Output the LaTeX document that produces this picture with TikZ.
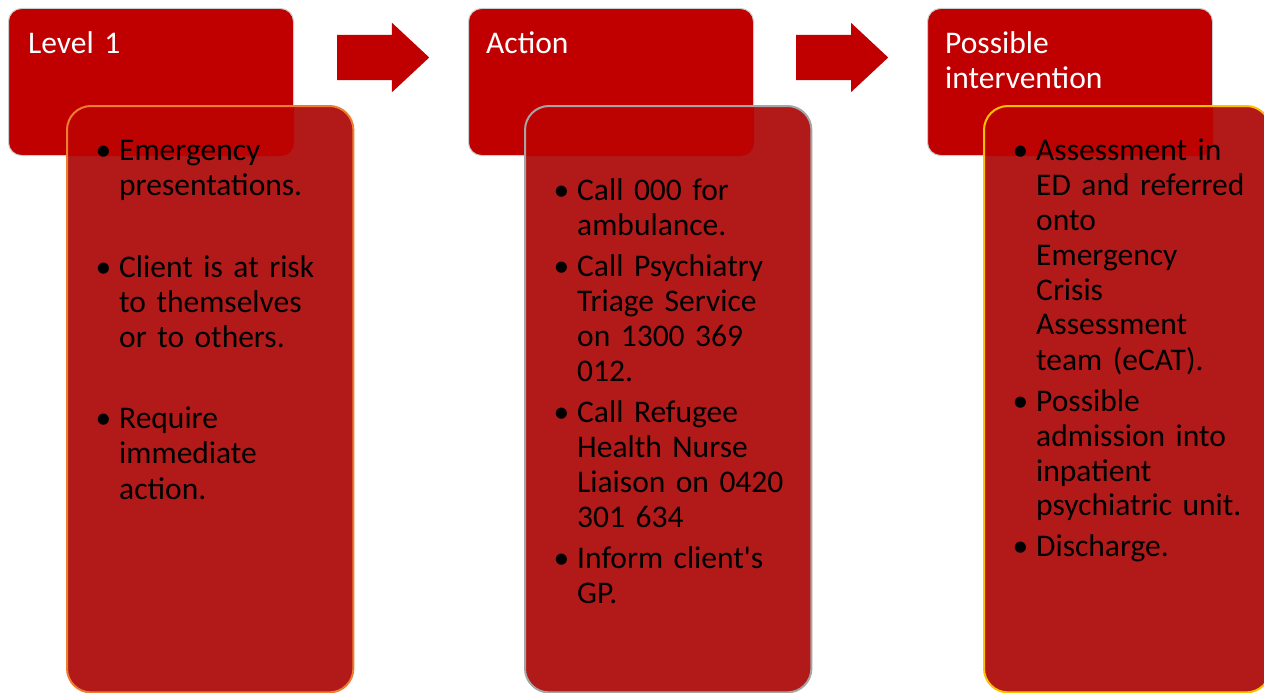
\documentclass[tikz,border=0pt]{standalone}
\usepackage{fontspec}
\setmainfont{Carlito}
\usepackage{enumitem}
\usetikzlibrary{positioning,shapes.arrows}
\definecolor{headred}{RGB}{192,0,0}
\definecolor{boxred}{RGB}{178,26,26}
\definecolor{overlapred}{RGB}{189,2,2}
\definecolor{edgeorange}{RGB}{237,125,49}
\definecolor{edgegray}{RGB}{165,165,165}
\definecolor{edgegold}{RGB}{255,192,0}
\newcommand{\bodyfont}{\fontsize{31.5}{35}\selectfont}
% header seen through a panel
\newcommand{\seethrough}[3]{%
  \begin{scope}
    \clip[rounded corners=24pt] (#1.north west) rectangle (#1.south east);
    \fill[overlapred,rounded corners=13pt] (#2.north west) rectangle (#2.south east);
  \end{scope}
  \draw[#3,line width=2pt,rounded corners=24pt] (#1.north west) rectangle (#1.south east);}
\tikzset{
  head/.style={draw=gray!40,line width=1pt,fill=headred,rounded corners=13pt,
    minimum width=285pt,minimum height=147pt,anchor=north west,inner sep=0pt},
  panel/.style={fill=boxred,rounded corners=24pt,
    minimum width=286pt,minimum height=586pt,anchor=north west,inner sep=0pt},
  headtext/.style={anchor=base west,inner sep=0pt,text=white,text width=260pt,
    align=left,font=\bodyfont},
  listtext/.style={anchor=base west,inner sep=0pt,text width=300pt,
    align=left,font=\bodyfont},
  flow/.style={single arrow,fill=headred,inner xsep=0pt,inner ysep=22.5pt,
    minimum height=92pt,minimum width=69pt,single arrow head extend=12pt,
    single arrow tip angle=86,single arrow head indent=0pt,anchor=west}
}
\begin{document}
\begin{tikzpicture}[x=1pt,y=-1pt]
  \useasboundingbox (0,0) rectangle (1264,693);
  \clip (0,0) rectangle (1264,693);

  % headers
  \node[head] (lvlhead) at (8,8) {};
  \node[head] (acthead) at (468,8) {};
  \node[head] (inthead) at (927,8) {};

  % arrows between headers
  \node[flow] (arrone) at (337,57.5) {};
  \node[flow] (arrtwo) at (796,57.5) {};

  % header titles
  \node[headtext] (lvltitle) at (28,53.5) {Level 1};
  \node[headtext] (acttitle) at (486,53.5) {Action};
  \node[headtext] (inttitle) at (945,53.5) {Possible\\intervention};

  % lower panels
  \node[panel] (lvlpanel) at (67,106) {};
  \node[panel] (actpanel) at (525,106) {};
  \node[panel] (intpanel) at (984,106) {};
  \seethrough{lvlpanel}{lvlhead}{edgeorange}
  \seethrough{actpanel}{acthead}{edgegray}
  \seethrough{intpanel}{inthead}{edgegold}

  % lists
  \node[listtext] (lvllist) at (86,125) {%
    \begin{itemize}[leftmargin=33pt,labelsep=8pt,itemsep=47pt,parsep=0pt,topsep=0pt,partopsep=0pt]
      \item Emergency\newline presentations.
      \item Client is at risk\newline to themselves\newline or to others.
      \item Require\newline immediate\newline action.
    \end{itemize}};
  \node[listtext] (actlist) at (544,165.5) {%
    \begin{itemize}[leftmargin=33pt,labelsep=8pt,itemsep=6pt,parsep=0pt,topsep=0pt,partopsep=0pt]
      \item Call 000 for\newline ambulance.
      \item Call Psychiatry\newline Triage Service\newline on 1300 369\newline 012.
      \item Call Refugee\newline Health Nurse\newline Liaison on 0420\newline 301 634
      \item Inform client\textquotesingle s\newline GP.
    \end{itemize}};
  \node[listtext] (intlist) at (1003,125) {%
    \begin{itemize}[leftmargin=33pt,labelsep=8pt,itemsep=6pt,parsep=0pt,topsep=0pt,partopsep=0pt]
      \item Assessment in\newline ED and referred\newline onto\newline Emergency\newline Crisis\newline Assessment\newline team (eCAT).
      \item Possible\newline admission into\newline inpatient\newline psychiatric unit.
      \item Discharge.
    \end{itemize}};
\end{tikzpicture}
\end{document}
